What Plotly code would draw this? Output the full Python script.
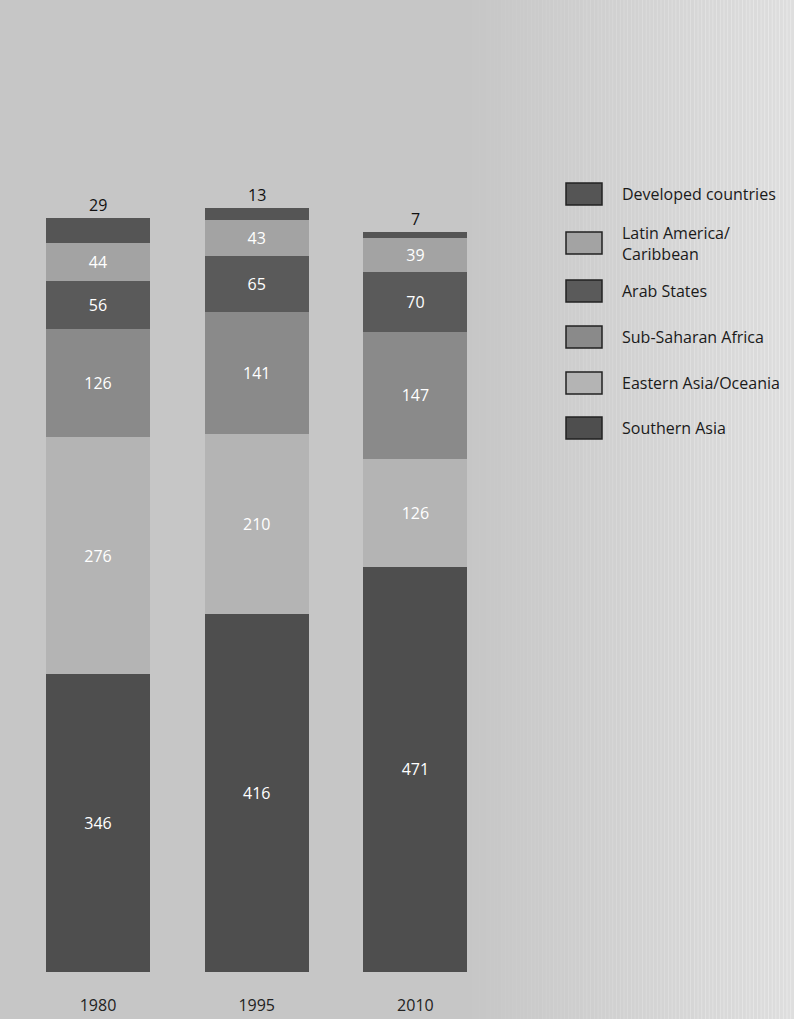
import plotly.graph_objects as go

# Number of out-of-school / illiterate people (millions) by region
years = ["1980", "1995", "2010"]
series_names = [
    "Southern Asia",
    "Eastern Asia/Oceania",
    "Sub-Saharan Africa",
    "Arab States",
    "Latin America/<br>Caribbean",
    "Developed countries",
]
southern_asia = [346, 416, 471]
eastern_asia = [276, 210, 126]
sub_saharan = [126, 141, 147]
arab_states = [56, 65, 70]
latin_america = [44, 43, 39]
developed = [29, 13, 7]

series_values = [southern_asia, eastern_asia, sub_saharan, arab_states, latin_america, developed]
colors = ["#4e4e4e", "#b4b4b4", "#8a8a8a", "#5a5a5a", "#a3a3a3", "#555555"]

FONT = "Open Sans"
W, H = 794, 1019
BOTTOM = 47
PX_PER_UNIT = 0.86
PLOT_H = H - BOTTOM

fig = go.Figure()

# Stacked bars; the thin top segment is labelled above the bar instead
for i, (name, vals, col) in enumerate(zip(series_names, series_values, colors)):
    is_top = i == len(series_names) - 1
    fig.add_trace(go.Bar(
        x=years,
        y=vals,
        name=name,
        marker=dict(color=col, line=dict(width=0)),
        text=None if is_top else [str(v) for v in vals],
        textposition="inside",
        insidetextanchor="middle",
        constraintext="none",
        textfont=dict(family=FONT, size=16, color="white"),
        showlegend=False,
        width=0.655,
    ))

totals = [sum(col) for col in zip(*series_values)]
for idx, (tot, v) in enumerate(zip(totals, developed)):
    fig.add_annotation(x=idx, y=tot, text=str(v), showarrow=False,
                       yanchor="bottom", yshift=0,
                       font=dict(family=FONT, size=16, color="#111111"))

# Background tone: grey on the left, lightening towards the right edge
shapes = []
n_strips = 90
x0_frac = 0.58
for k in range(n_strips):
    a = x0_frac + (1 - x0_frac) * k / n_strips
    b = x0_frac + (1 - x0_frac) * (k + 1) / n_strips
    shapes.append(dict(type="rect", xref="paper", yref="paper", x0=a, x1=b + 0.001,
                       y0=-0.1, y1=1.1, layer="below", line=dict(width=0),
                       fillcolor="white", opacity=0.42 * (k + 1) / n_strips))

# Legend drawn as swatches with labels, top entry first
legend_top = 194
legend_steps = [0, 49, 97, 143, 189, 234]
sw_x0, sw_x1 = 566, 602
for idx, (name, col) in enumerate(reversed(list(zip(series_names, colors)))):
    cy = legend_top + legend_steps[idx]
    shapes.append(dict(type="rect", xref="paper", yref="paper",
                       x0=sw_x0 / W, x1=sw_x1 / W,
                       y0=(PLOT_H - (cy + 11)) / PLOT_H,
                       y1=(PLOT_H - (cy - 11)) / PLOT_H,
                       fillcolor=col, line=dict(color="#222222", width=1.5)))
    fig.add_annotation(xref="paper", yref="paper", x=620 / W,
                       y=(PLOT_H - cy) / PLOT_H,
                       text=name, showarrow=False, xanchor="left", yanchor="middle",
                       align="left",
                       font=dict(family=FONT, size=16, color="#1a1a1a"))

c0 = 98
step = 158.7
fig.update_layout(
    width=W, height=H,
    barmode="stack",
    margin=dict(l=0, r=0, t=0, b=BOTTOM),
    paper_bgcolor="#c6c6c6",
    plot_bgcolor="rgba(0,0,0,0)",
    shapes=shapes,
    xaxis=dict(
        type="category",
        range=[-c0 / step, (W - c0) / step],
        showgrid=False, zeroline=False, showline=False, ticks="",
        tickfont=dict(family=FONT, size=16, color="#222222"),
        ticklabelstandoff=22,
    ),
    yaxis=dict(
        range=[0, PLOT_H / PX_PER_UNIT],
        visible=False,
    ),
)

fig.write_html("out.html")
